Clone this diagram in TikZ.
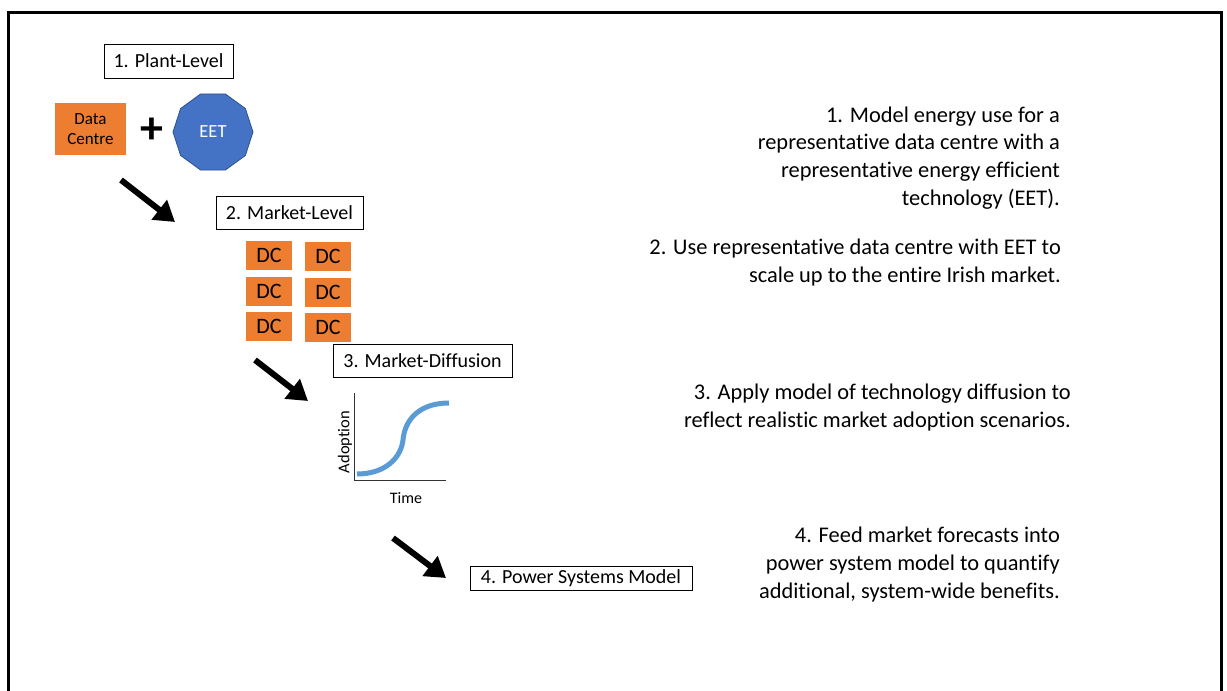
\documentclass[tikz,border=0pt]{standalone}
\usepackage{fontspec}
\setmainfont{Carlito}[Ligatures=NoCommon]
\usetikzlibrary{arrows.meta,shapes.geometric}
\definecolor{dcorange}{HTML}{ED7D31}
\definecolor{eetblue}{HTML}{4472C4}
\definecolor{eetedge}{HTML}{2F528F}
\definecolor{curveblue}{HTML}{5B9BD5}
\tikzset{
  labelbox/.style={draw=black, line width=1pt, fill=white, inner sep=0pt, font=\fontsize{20}{24}\selectfont},
  dcbox/.style={fill=dcorange, minimum width=46pt, minimum height=29pt, inner sep=0pt, font=\fontsize{22}{24}\selectfont},
  desc/.style={anchor=base east, align=right, inner sep=0pt, font=\fontsize{22.4}{27.6}\selectfont},
  bigarrow/.style={line width=6pt, -{Triangle[length=20pt,width=24pt]}},
}
\begin{document}
\begin{tikzpicture}[x=1pt,y=-1pt]
\useasboundingbox (0,0) rectangle (1227,691);
% frame
\draw[line width=3pt] (8.5,720) -- (8.5,12.5) -- (1221.5,12.5) -- (1221.5,720);

% 1. Plant-level
\node[labelbox, minimum width=129pt, minimum height=34pt] (plant) at (168.5,61) {1. Plant-Level};
\node[fill=dcorange, minimum width=71pt, minimum height=52pt, inner sep=0pt, align=center,
      font=\fontsize{17}{20}\selectfont] (dc) at (90.5,129) {Data\\Centre};
\node[inner sep=0pt, font=\fontsize{46}{46}\selectfont\bfseries] (plus) at (152,131) {+};
\node[regular polygon, regular polygon sides=10, minimum size=80pt, inner sep=0pt,
      fill=eetblue, draw=eetedge, line width=0.8pt, text=white,
      font=\fontsize{18.5}{20}\selectfont] (eet) at (213,132) {EET};

% arrows
\coordinate (a1s) at (121,180); \coordinate (a1e) at (175,222);
\coordinate (a2s) at (255,360); \coordinate (a2e) at (308,401);
\coordinate (a3s) at (393,538); \coordinate (a3e) at (446,578);
\draw[bigarrow] (a1s) -- (a1e);
\draw[bigarrow] (a2s) -- (a2e);
\draw[bigarrow] (a3s) -- (a3e);

% 2. Market-level
\node[labelbox, minimum width=147pt, minimum height=33pt] (market) at (289.5,212.5) {2. Market-Level};
\node[dcbox] (dc11) at (269,255.5) {DC};
\node[dcbox] (dc12) at (328,256.5) {DC};
\node[dcbox] (dc21) at (269,291.5) {DC};
\node[dcbox] (dc22) at (328,292) {DC};
\node[dcbox] (dc31) at (269,326.5) {DC};
\node[dcbox] (dc32) at (328,327) {DC};

% 3. Market diffusion
\node[labelbox, minimum width=179pt, minimum height=33pt] (diff) at (422.5,360.5) {3. Market-Diffusion};
\coordinate (ytop) at (354,393);
\coordinate (orig) at (354,480);
\coordinate (xend) at (446,480);
\draw[line width=1pt, black!80] (ytop) -- (orig) -- (xend);
\draw[curveblue, line width=5pt] (357,474) .. controls (385,474) and (401,458) .. (403,440)
  .. controls (405,418) and (421,403) .. (449,403);
\node[rotate=90, inner sep=0pt, font=\fontsize{16.5}{18}\selectfont] (adopt) at (345,442) {Adoption};
\node[inner sep=0pt, font=\fontsize{16}{18}\selectfont] (time) at (406,498) {Time};

% 4. Power systems model
\node[labelbox, minimum width=222pt, minimum height=24pt] (psm) at (581,578) {4. Power Systems Model};

% descriptions
\node[desc] (d1) at (1060,205) {1. Model energy use for a\\representative data centre with a\\representative energy efficient\\technology (EET).};
\node[desc] (d2) at (1061,282) {2. Use representative data centre with EET to\\scale up to the entire Irish market.};
\node[desc] (d3) at (1071,427) {3. Apply model of technology diffusion to\\reflect realistic market adoption scenarios.};
\node[desc] (d4) at (1060,598) {4. Feed market forecasts into\\power system model to quantify\\additional, system-wide benefits.};
\end{tikzpicture}
\end{document}
